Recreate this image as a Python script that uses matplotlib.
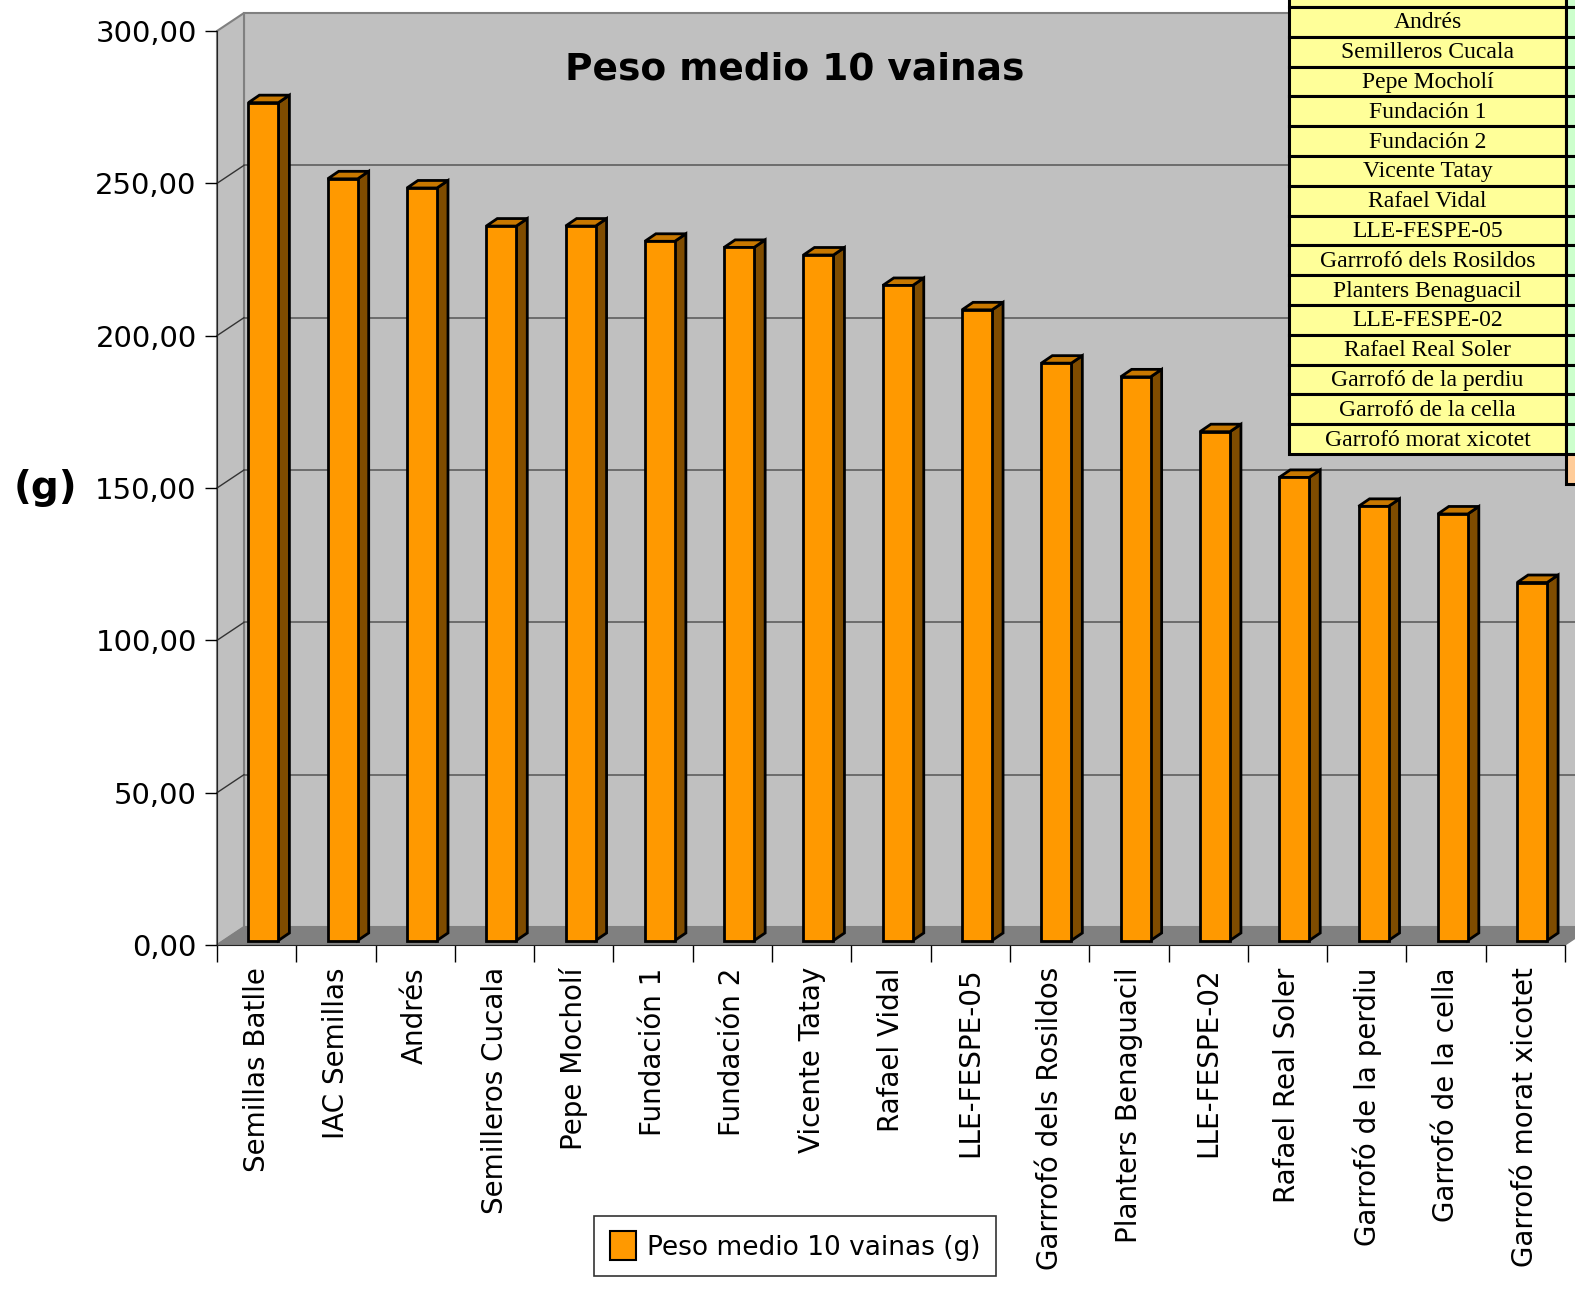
import numpy as np
import matplotlib
matplotlib.use("Agg")
import matplotlib.pyplot as plt
from matplotlib.patches import Polygon, Rectangle, Patch

# datos
variedades = ["Semillas Batlle", "IAC Semillas", "Andrés", "Semilleros Cucala",
              "Pepe Mocholí", "Fundación 1", "Fundación 2", "Vicente Tatay",
              "Rafael Vidal", "LLE-FESPE-05", "Garrrofó dels Rosildos",
              "Planters Benaguacil", "LLE-FESPE-02", "Rafael Real Soler",
              "Garrofó de la perdiu", "Garrofó de la cella", "Garrofó morat xicotet"]
peso = [275.0, 250.0, 247.0, 234.5, 234.5, 229.5, 227.5, 225.0, 215.0, 207.0,
        189.5, 185.0, 167.0, 152.0, 142.5, 140.0, 117.5]
yticks = [0, 50, 100, 150, 200, 250, 300]

W, H = 1575, 1292
fig = plt.figure(figsize=(W / 100, H / 100), dpi=100)

# zone du graphique (en pixels)
x0, x1 = 217, 1565
ytop, ybot = 31, 945
ax = fig.add_axes([x0 / W, 1 - ybot / H, (x1 - x0) / W, (ybot - ytop) / H])
n = len(peso)
ax.set_xlim(-0.5, n - 0.5)
ax.set_ylim(0, 300)

px_x = (x1 - x0) / n
px_y = (ybot - ytop) / 300.0
# profondeur 3D
WX, WY = 27 / px_x, 18 / px_y
bx0, by0 = 0.25 * WX, 0.25 * WY
bw = 30 / px_x
dx, dy = 11 / px_x, 7.5 / px_y

# murs et sol
ax.add_patch(Polygon([(-0.5 + WX, WY), (n - 0.5 + WX, WY), (n - 0.5 + WX, 300 + WY),
                      (-0.5 + WX, 300 + WY)], closed=True, facecolor="#c0c0c0",
                     edgecolor="#808080", lw=1.5, clip_on=False, zorder=0))
ax.add_patch(Polygon([(-0.5, 0), (-0.5 + WX, WY), (-0.5 + WX, 300 + WY), (-0.5, 300)],
                     closed=True, facecolor="#c0c0c0", edgecolor="#808080", lw=1.5,
                     clip_on=False, zorder=0.5))
ax.add_patch(Polygon([(-0.5, 0), (n - 0.5, 0), (n - 0.5 + WX, WY), (-0.5 + WX, WY)],
                     closed=True, facecolor="#808080", edgecolor="#808080", lw=1,
                     clip_on=False, zorder=1))
for yv in yticks[1:-1]:
    ax.plot([-0.5 + WX, n - 0.5 + WX], [yv + WY, yv + WY], color="#555555", lw=1.1,
            clip_on=False, zorder=0.8)
    ax.plot([-0.5, -0.5 + WX], [yv, yv + WY], color="#333333", lw=1, clip_on=False,
            zorder=0.8)

# barres 3D
for i, v in enumerate(peso):
    xl = i + bx0 - bw / 2
    xr = xl + bw
    ax.add_patch(Polygon([(xr, by0), (xr + dx, by0 + dy), (xr + dx, by0 + v + dy), (xr, by0 + v)],
                         closed=True, facecolor="#7f4c00", edgecolor="black", lw=2,
                         clip_on=False, zorder=3))
    ax.add_patch(Polygon([(xl, by0 + v), (xr, by0 + v), (xr + dx, by0 + v + dy), (xl + dx, by0 + v + dy)],
                         closed=True, facecolor="#c87800", edgecolor="black", lw=2,
                         clip_on=False, zorder=3))
    ax.add_patch(Rectangle((xl, by0), bw, v, facecolor="#ff9900", edgecolor="black",
                           lw=2, clip_on=False, zorder=4))

# ejes
for s in ["top", "right"]:
    ax.spines[s].set_visible(False)
ax.spines["left"].set_color("#222222")
ax.spines["bottom"].set_color("#222222")
ax.spines["left"].set_zorder(5)
ax.spines["bottom"].set_zorder(5)
ax.set_facecolor("none")

ax.set_yticks(yticks)
ax.set_yticklabels([f"{t:.2f}".replace(".", ",") for t in yticks], fontsize=21)
ax.tick_params(axis="y", length=8.6, width=1, pad=6)

ax.set_xticks(np.arange(n))
ax.set_xticklabels(variedades, rotation=90, ha="center", va="top", fontsize=20)
ax.set_xticks(np.arange(-0.5, n, 1), minor=True)
ax.tick_params(axis="x", which="major", length=0, pad=16)
ax.tick_params(axis="x", which="minor", length=12.5, width=1)

fig.text(45 / W, 1 - 488 / H, "(g)", fontsize=28, fontweight="bold", ha="center", va="center")
fig.text(795 / W, 1 - 70 / H, "Peso medio 10 vainas", fontsize=27, fontweight="bold",
         ha="center", va="center")

# leyenda
leg = fig.legend(handles=[Patch(facecolor="#ff9900", edgecolor="black", lw=1.5)],
                 labels=["Peso medio 10 vainas (g)"], loc="center",
                 bbox_to_anchor=(795 / W, 1 - 1246 / H), fontsize=19, frameon=True,
                 fancybox=False, edgecolor="black", handlelength=1.0, handleheight=1.3,
                 handletextpad=0.4, borderpad=0.6)
leg.get_frame().set_linewidth(1.2)

# tabla de la hoja (arriba a la derecha)
tab = fig.add_axes([0, 0, 1, 1], zorder=10)
tab.set_xlim(0, W)
tab.set_ylim(H, 0)
tab.axis("off")
tx0, tx1, tx2 = 1289, 1566, 1610
rh = 29.8
for k, nombre in enumerate(variedades):
    top = 7 + (k - 2) * rh
    if top + rh < 0:
        continue  # fila fuera de la imagen
    tab.add_patch(Rectangle((tx0, top), tx1 - tx0, rh, facecolor="#ffff99",
                            edgecolor="black", lw=2.2))
    tab.add_patch(Rectangle((tx1, top), tx2 - tx1, rh, facecolor="#ccffcc",
                            edgecolor="black", lw=2.2))
    tab.text((tx0 + tx1) / 2, top + rh / 2 + 1, nombre, fontsize=17,
             family="Liberation Serif", ha="center", va="center")
top = 7 + (n - 2) * rh
tab.add_patch(Rectangle((tx1, top), tx2 - tx1, rh, facecolor="#ffcc99",
                        edgecolor="black", lw=2.2))

fig.savefig("out.png", dpi=100)
